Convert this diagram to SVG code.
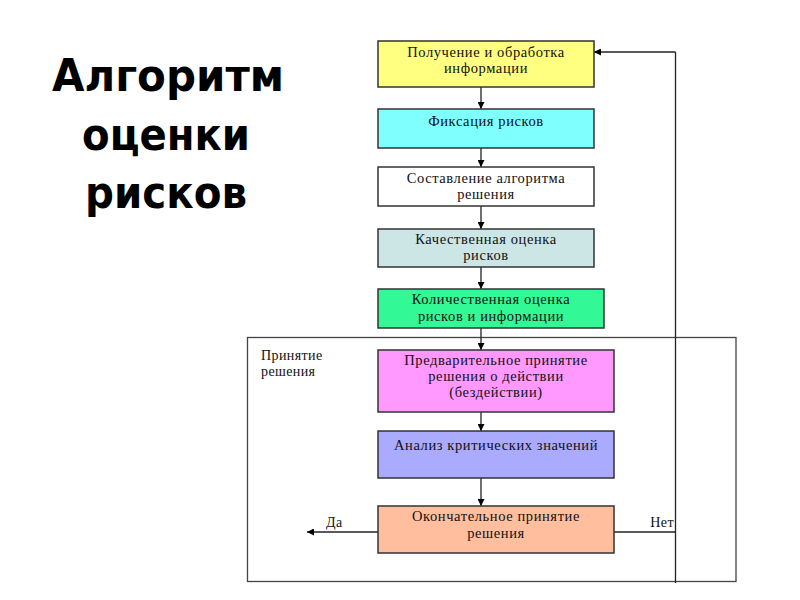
<svg xmlns="http://www.w3.org/2000/svg" width="800" height="600" viewBox="0 0 800 600">
<style>
.box{stroke:#333;stroke-width:1.5}
.t{font-family:"Liberation Serif","Times New Roman",serif;font-size:14.5px;letter-spacing:0.6px;fill:#111;text-anchor:middle}
.l{font-family:"Liberation Serif","Times New Roman",serif;font-size:14px;letter-spacing:0.4px;fill:#111}
.title{font-family:"DejaVu Sans","Noto Sans",sans-serif;font-weight:bold;font-size:44px;fill:#000;text-anchor:middle}
.ln{stroke:#222;stroke-width:1.3;fill:none}
</style>
<defs>
<marker id="ah" viewBox="0 0 10 10" refX="10" refY="5" markerWidth="7" markerHeight="7" orient="auto" markerUnits="userSpaceOnUse">
<path d="M0,0 L10,5 L0,10 z" fill="#000"/>
</marker>
</defs>
<rect width="800" height="600" fill="#fff"/>
<g id="title">
<text class="title" x="168" y="91" textLength="232" lengthAdjust="spacingAndGlyphs">Алгоритм</text>
<text class="title" x="166" y="150" textLength="168" lengthAdjust="spacingAndGlyphs">оценки</text>
<text class="title" x="166" y="208" textLength="162" lengthAdjust="spacingAndGlyphs">рисков</text>
</g>
<g id="frame">
<rect x="247.5" y="337.5" width="488.5" height="244" fill="none" stroke="#444" stroke-width="1.3"/>
<text class="l" x="261" y="360">Принятие</text>
<text class="l" x="261" y="376">решения</text>
</g>
<g id="connectors">
<line class="ln" x1="481" y1="87" x2="481" y2="109" marker-end="url(#ah)"/>
<line class="ln" x1="481" y1="148" x2="481" y2="167" marker-end="url(#ah)"/>
<line class="ln" x1="481" y1="206" x2="481" y2="229" marker-end="url(#ah)"/>
<line class="ln" x1="481" y1="267" x2="481" y2="289" marker-end="url(#ah)"/>
<line class="ln" x1="481" y1="328" x2="481" y2="350" marker-end="url(#ah)"/>
<line class="ln" x1="481" y1="412" x2="481" y2="431" marker-end="url(#ah)"/>
<line class="ln" x1="481" y1="478" x2="481" y2="506" marker-end="url(#ah)"/>
<line class="ln" x1="378" y1="532" x2="307" y2="532" marker-end="url(#ah)"/>
<polyline class="ln" points="614,532 675.5,532"/>
<line class="ln" x1="675.5" y1="52" x2="675.5" y2="583"/>
<line class="ln" x1="675.5" y1="52" x2="594" y2="52" marker-end="url(#ah)"/>
<text class="l" x="326" y="527">Да</text>
<text class="l" x="674" y="527" text-anchor="end">Нет</text>
</g>
<g id="n1">
<rect class="box" x="378" y="41" width="216" height="46" fill="#FFFF80"/>
<text class="t" x="486" y="57">Получение и обработка</text>
<text class="t" x="486" y="73">информации</text>
</g>
<g id="n2">
<rect class="box" x="378" y="109" width="216" height="39" fill="#80FFFF"/>
<text class="t" x="486" y="126">Фиксация рисков</text>
</g>
<g id="n3">
<rect class="box" x="378" y="167" width="216" height="39" fill="#FFFFFF"/>
<text class="t" x="486" y="183">Составление алгоритма</text>
<text class="t" x="486" y="199">решения</text>
</g>
<g id="n4">
<rect class="box" x="378" y="229" width="216" height="38" fill="#CCE6E6"/>
<text class="t" x="486" y="244">Качественная оценка</text>
<text class="t" x="486" y="260">рисков</text>
</g>
<g id="n5">
<rect class="box" x="378" y="289" width="226" height="39" fill="#33F896"/>
<text class="t" x="491" y="304">Количественная оценка</text>
<text class="t" x="491" y="321">рисков и информации</text>
</g>
<g id="n6">
<rect class="box" x="378" y="350" width="236" height="62" fill="#FF99FF"/>
<text class="t" x="496" y="365">Предварительное принятие</text>
<text class="t" x="496" y="381">решения о действии</text>
<text class="t" x="496" y="397">(бездействии)</text>
</g>
<g id="n7">
<rect class="box" x="378" y="431" width="236" height="47" fill="#AAAAFF"/>
<text class="t" x="496" y="450">Анализ критических значений</text>
</g>
<g id="n8">
<rect class="box" x="378" y="506" width="236" height="47" fill="#FFBF9F"/>
<text class="t" x="496" y="521">Окончательное принятие</text>
<text class="t" x="496" y="538">решения</text>
</g>
</svg>
